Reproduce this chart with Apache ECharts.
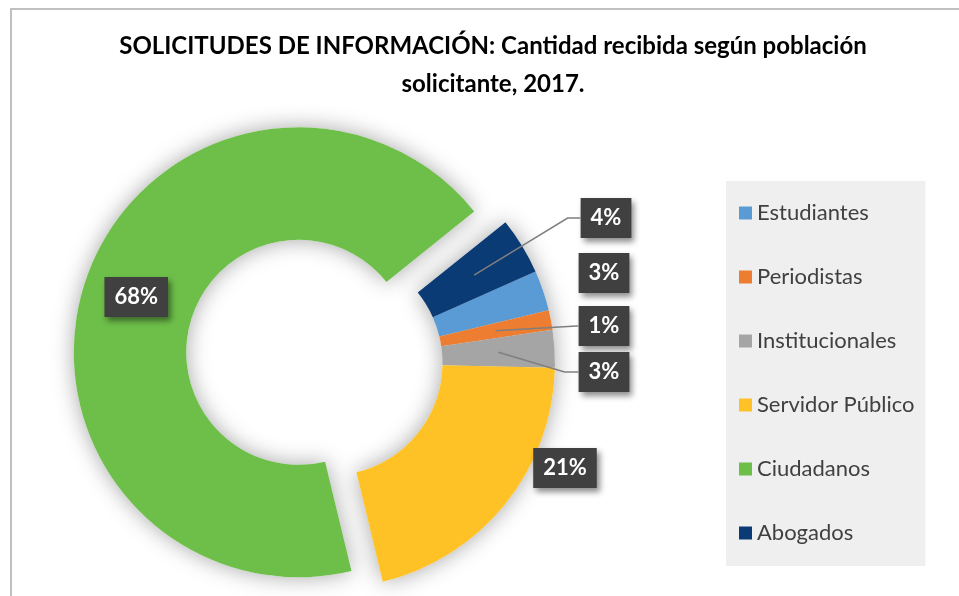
<!DOCTYPE html>
<html>
<head>
<meta charset="utf-8">
<script src="https://cdn.jsdelivr.net/npm/echarts@6/dist/echarts.min.js"></script>
<style>
html,body{margin:0;padding:0;background:#ffffff;}
#chart{width:959px;height:596px;}
</style>
</head>
<body>
<div id="chart"></div>
<script>
// ---- data ----
const categories = ['Estudiantes', 'Periodistas', 'Institucionales', 'Servidor Público', 'Ciudadanos', 'Abogados'];
const shares = [2.9, 1.4, 2.7, 20.9, 68.0, 4.1];   // percent of requests
const explodedCategory = 'Ciudadanos';
const titleLines = ['SOLICITUDES DE INFORMACIÓN: Cantidad recibida según población', 'solicitante, 2017.'];

// ---- styling / layout ----
const colors = ['#5B9BD5', '#ED7D31', '#A5A5A5', '#FEC226', '#6EBF4A', '#0B3B74'];
const CX = 330, CY = 363, R_IN = 112.5, R_OUT = 225;
const START_CW = 66;            // first slice starts 66deg clockwise from 12 o'clock
const EXPLODE = 33;
const FONT = 'Lato';
const LABEL_FONT_SIZE = 22, LABEL_PAD_X = 10;
// label box centres + leader-line bend distance (null = no leader line)
const labelSpots = {
  'Abogados':        { x: 606, y: 218, bend: 13 },
  'Estudiantes':     { x: 604, y: 273, bend: null },
  'Periodistas':     { x: 604, y: 326, bend: 2 },
  'Institucionales': { x: 604, y: 372, bend: 14 },
  'Servidor Público':{ x: 565, y: 468, bend: null }
};

const total = shares.reduce((a, b) => a + b, 0);
function midAngle(i) {
  let cum = 0;
  for (let k = 0; k < i; k++) cum += shares[k];
  return START_CW + (cum + shares[i] / 2) / total * 360;
}
function pctText(v) { return Math.round(v) + '%'; }

const measureCtx = document.createElement('canvas').getContext('2d');
measureCtx.font = 'bold ' + LABEL_FONT_SIZE + 'px ' + FONT;

// leader lines: from the middle of the ring at the slice's mid-angle to the label box
const leaderLines = [];
categories.forEach((name, i) => {
  const spot = labelSpots[name];
  if (!spot || spot.bend === null) return;
  const a = midAngle(i) * Math.PI / 180;
  const rm = (R_IN + R_OUT) / 2;
  const p0 = [CX + rm * Math.sin(a), CY - rm * Math.cos(a)];
  const boxW = measureCtx.measureText(pctText(shares[i])).width + 2 * LABEL_PAD_X;
  const left = spot.x - boxW / 2;
  leaderLines.push({
    type: 'polyline', silent: true, z: 20,
    shape: { points: [p0, [left - spot.bend, spot.y], [left, spot.y]] },
    style: { fill: null, stroke: '#7F7F7F', lineWidth: 1.5 }
  });
});

const chart = echarts.init(document.getElementById('chart'), null, { renderer: 'canvas' });

const pieData = categories.map((name, i) => ({
  name: name,
  value: shares[i],
  selected: name === explodedCategory,
  itemStyle: { color: colors[i] },
  label: { position: name === explodedCategory ? 'inside' : 'outside' }
}));

const option = {
  animation: false,
  backgroundColor: '#ffffff',
  graphic: [{
    type: 'rect', silent: true, z: -10,
    shape: { x: 11, y: 9, width: 1200, height: 1200 },
    style: { fill: null, stroke: '#C0C0C0', lineWidth: 2 }
  }].concat(leaderLines),
  title: {
    text: titleLines.join('\n'),
    left: 493, top: 27, padding: 0,
    textAlign: 'center',
    textStyle: { fontFamily: FONT, fontWeight: 'bold', fontSize: 24, lineHeight: 38, color: '#000000' }
  },
  legend: {
    data: categories,
    orient: 'vertical',
    left: 726, top: 181,
    padding: [21, 11, 22, 13],
    backgroundColor: '#EFEFEF',
    icon: 'rect',
    itemWidth: 13, itemHeight: 13, itemGap: 42,
    selectedMode: false,
    textStyle: { fontFamily: FONT, fontSize: 22, lineHeight: 22, color: '#404040' }
  },
  series: [
    {
      type: 'pie',
      z: 3,
      center: [CX, CY],
      radius: [R_IN, R_OUT],
      startAngle: 90 - START_CW,
      clockwise: true,
      selectedMode: 'single',
      selectedOffset: EXPLODE,
      avoidLabelOverlap: false,
      emphasis: { disabled: true },
      label: {
        show: true,
        formatter: p => pctText(p.value),
        color: '#ffffff',
        fontFamily: FONT,
        fontWeight: 'bold',
        fontSize: LABEL_FONT_SIZE,
        lineHeight: 26,
        backgroundColor: '#404040',
        padding: [7, LABEL_PAD_X, 7, LABEL_PAD_X],
        shadowColor: 'rgba(0,0,0,0.45)',
        shadowBlur: 6,
        shadowOffsetX: 3,
        shadowOffsetY: 4
      },
      labelLine: { show: false },
      labelLayout: function (params) {
        const spot = labelSpots[categories[params.dataIndex]];
        if (!spot) return;
        return { x: spot.x, y: spot.y, align: 'center', verticalAlign: 'middle' };
      },
      data: pieData
    },
    {
      type: 'pie',
      z: 1,
      silent: true,
      center: [CX, CY],
      radius: [R_IN, R_OUT],
      startAngle: 90 - START_CW,
      clockwise: true,
      selectedMode: 'single',
      selectedOffset: EXPLODE,
      emphasis: { disabled: true },
      label: { show: false },
      labelLine: { show: false },
      itemStyle: { color: '#ffffff', shadowBlur: 22, shadowColor: 'rgba(0,0,0,0.35)' },
      data: categories.map((name, i) => ({ name: name, value: shares[i], selected: name === explodedCategory }))
    }
  ]
};
chart.setOption(option);
</script>
</body>
</html>
